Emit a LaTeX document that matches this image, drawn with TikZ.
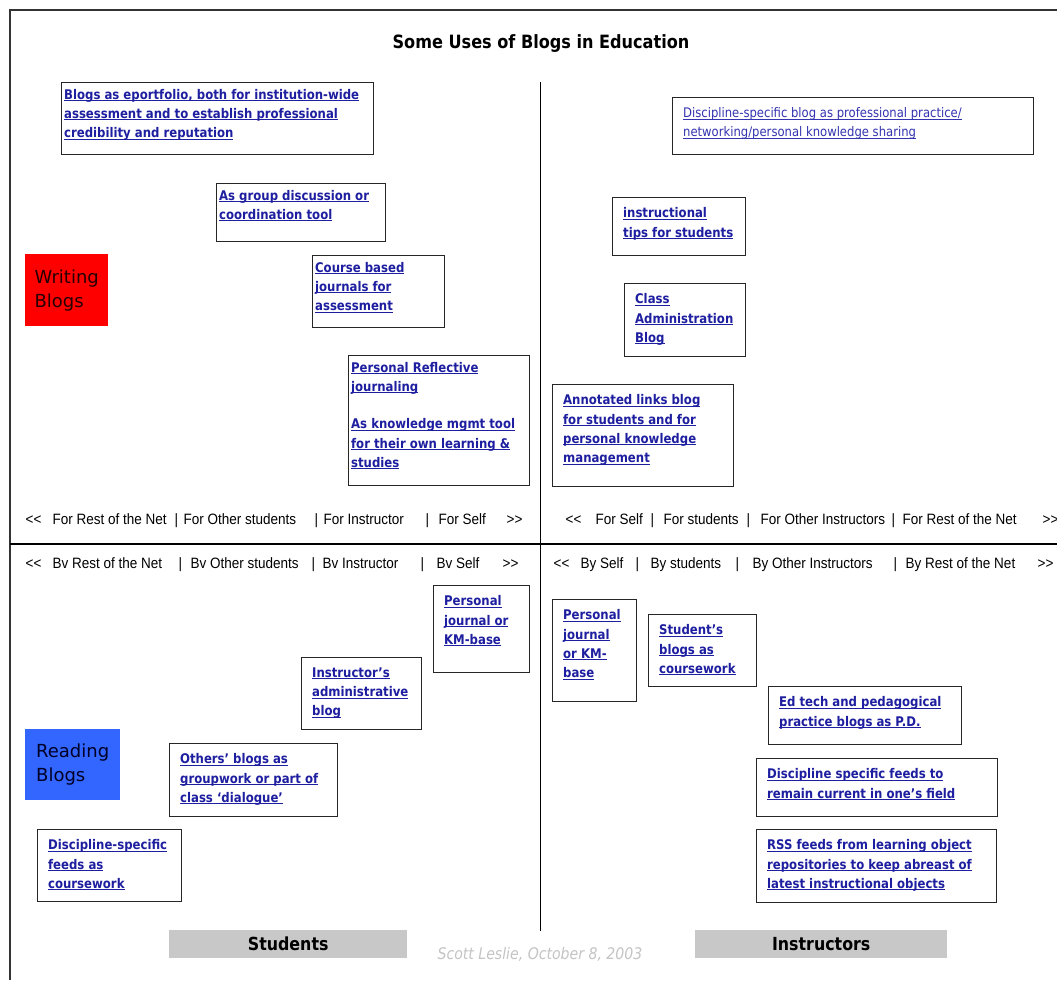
\documentclass[tikz,border=0pt]{standalone}
\usepackage{fontspec}
\newfontfamily\boxfont[FakeStretch=0.88]{DejaVu Sans}
\newfontfamily\catfont{DejaVu Sans}
\newfontfamily\rowfont[FakeStretch=0.9]{Liberation Sans}
\definecolor{linkblue}{HTML}{1E1EA0}
\definecolor{plainblue}{HTML}{3434B0}
\definecolor{writered}{HTML}{FF0000}
\definecolor{readblue}{HTML}{3366FF}
\definecolor{bargray}{HTML}{C8C8C8}
\definecolor{signgray}{HTML}{C4C4C4}
\newcommand{\lnk}[1]{\leavevmode\setbox0\hbox{#1}\rlap{\rule[-1.8pt]{\wd0}{0.9pt}}\box0}
\newcommand{\boxtext}[3]{\parbox[t][#2pt][t]{#1pt}{#3}}
\newcommand{\rowat}[2]{\rlap{\hspace{#1pt}#2}}
\tikzset{
	blogbox/.style={draw=black!85, line width=1.3pt, anchor=north west, inner xsep=10.5pt, inner ysep=10pt,
		text=linkblue, font=\boxfont\bfseries\fontsize{13.3}{19.3}\selectfont},
	tightbox/.style={blogbox, inner xsep=2.5pt, inner ysep=6.5pt},
	plainbox/.style={blogbox, text=plainblue, font=\boxfont\fontsize{13.2}{19}\selectfont},
	catbox/.style={anchor=north west, align=left, inner sep=0pt, font=\catfont\fontsize{18}{24}\selectfont},
	bar/.style={fill=bargray, anchor=north west, inner sep=0pt, minimum height=28pt,
		font=\boxfont\bfseries\fontsize{18}{20}\selectfont},
	rowtext/.style={anchor=west, inner sep=0pt, font=\rowfont\fontsize{15}{17}\selectfont},
}

\begin{document}
\begin{tikzpicture}[x=1pt,y=-1pt]
		% Page and frame
		\fill[white] (0,0) rectangle (1057,980);
		\useasboundingbox (0,0) rectangle (1057,980);
		\draw[line width=2pt, black!80] (1057,10) -- (10,10) -- (10,980);
		\node[font=\boxfont\bfseries\fontsize{18.3}{20}\selectfont] (title) at (541,44) {Some Uses of Blogs in Education};
		% Dividers
		\coordinate (divtop) at (540,82);
		\coordinate (divbot) at (540,931);
		\coordinate (midleft) at (10,544);
		\coordinate (midright) at (1057,544);
		\draw[line width=1pt] (divtop) -- (divbot);
		\draw[line width=1.6pt] (midleft) -- (midright);
		% Writing blogs, students
		\node[catbox, fill=writered, text={black!85!red}, minimum width=83pt, minimum height=72pt] (writing) at (25,254) {Writing\\Blogs};
		\node[tightbox] (eport) at (61,82) {\boxtext{307}{59}{\lnk{Blogs as eportfolio, both for institution-wide}\\
			\lnk{assessment and to establish professional}\\ \lnk{credibility and reputation}}};
		\node[tightbox] (groupdisc) at (216,183) {\boxtext{164}{45}{\lnk{As group discussion or}\\ \lnk{coordination tool}}};
		\node[tightbox] (coursejour) at (312,255) {\boxtext{127}{59}{\lnk{Course based}\\ \lnk{journals for}\\ \lnk{assessment}}};
		\node[tightbox] (reflect) at (348,355) {\boxtext{176}{117}{\lnk{Personal Reflective}\\ \lnk{journaling}\\[18pt]
			\lnk{As knowledge mgmt tool}\\ \lnk{for their own learning \&}\\ \lnk{studies}}};
		% Writing blogs, instructors
		\node[plainbox] (discprac) at (672,97) {\boxtext{340}{37}{\lnk{Discipline-specific blog as professional practice/}\\
			\lnk{networking/personal knowledge sharing}}};
		\node[blogbox] (tips) at (612,197) {\boxtext{112}{38}{\lnk{instructional}\\ \lnk{tips for students}}};
		\node[blogbox] (classadmin) at (624,283) {\boxtext{100}{53}{\lnk{Class}\\ \lnk{Administration}\\ \lnk{Blog}}};
		\node[blogbox] (annot) at (552,384) {\boxtext{160}{82}{\lnk{Annotated links blog}\\ \lnk{for students and for}\\
			\lnk{personal knowledge}\\ \lnk{management}}};
		% Audience rows
		\node[rowtext] (forstud) at (25,521) {\rowat{0}{<<}\rowat{27}{For Rest of the Net}\rowat{149}{|}\rowat{158}{For Other students}%
			\rowat{289}{|}\rowat{298}{For Instructor}\rowat{400}{|}\rowat{413}{For Self}\rowat{481}{>>}};
		\node[rowtext] (forinst) at (565,521) {\rowat{0}{<<}\rowat{30}{For Self}\rowat{85}{|}\rowat{98}{For students}%
			\rowat{181}{|}\rowat{195}{For Other Instructors}\rowat{326}{|}\rowat{337}{For Rest of the Net}\rowat{477}{>>}};
		\node[rowtext] (bystud) at (25,565) {\rowat{0}{<<}\rowat{27}{Bv Rest of the Net}\rowat{153}{|}\rowat{165}{Bv Other students}%
			\rowat{286}{|}\rowat{297}{Bv Instructor}\rowat{395}{|}\rowat{411}{Bv Self}\rowat{477}{>>}};
		\node[rowtext] (byinst) at (553,565) {\rowat{0}{<<}\rowat{27}{By Self}\rowat{82}{|}\rowat{97}{By students}%
			\rowat{182}{|}\rowat{199}{By Other Instructors}\rowat{340}{|}\rowat{352}{By Rest of the Net}\rowat{484}{>>}};
		% Reading blogs, students
		\node[catbox, fill=readblue, text={black!85!blue}, minimum width=95pt, minimum height=71pt] (reading) at (25,729) {Reading\\Blogs};
		\node[blogbox] (persjour) at (433,585) {\boxtext{75}{67}{\lnk{Personal}\\ \lnk{journal or}\\ \lnk{KM-base}}};
		\node[blogbox] (instradmin) at (301,657) {\boxtext{99}{52}{\lnk{Instructor’s}\\ \lnk{administrative}\\ \lnk{blog}}};
		\node[blogbox] (others) at (169,743) {\boxtext{147}{53}{\lnk{Others’ blogs as}\\ \lnk{groupwork or part of}\\ \lnk{class ‘dialogue’}}};
		\node[blogbox] (discfeeds) at (37,829) {\boxtext{123}{52}{\lnk{Discipline-specific}\\ \lnk{feeds as}\\ \lnk{coursework}}};
		% Reading blogs, instructors
		\node[blogbox] (persjourinst) at (552,599) {\boxtext{63}{82}{\lnk{Personal}\\ \lnk{journal}\\ \lnk{or KM-}\\ \lnk{base}}};
		\node[blogbox] (studblogs) at (648,614) {\boxtext{87}{52}{\lnk{Student’s}\\ \lnk{blogs as}\\ \lnk{coursework}}};
		\node[blogbox] (edtech) at (768,686) {\boxtext{172}{38}{\lnk{Ed tech and pedagogical}\\ \lnk{practice blogs as P.D.}}};
		\node[blogbox] (discfield) at (756,758) {\boxtext{220}{38}{\lnk{Discipline specific feeds to}\\ \lnk{remain current in one’s field}}};
		\node[blogbox] (rssfeeds) at (756,829) {\boxtext{219}{53}{\lnk{RSS feeds from learning object}\\
			\lnk{repositories to keep abreast of}\\ \lnk{latest instructional objects}}};
		% Footer
		\node[bar, minimum width=238pt] (students) at (169,930) {Students};
		\node[bar, minimum width=252pt] (instructors) at (695,930) {Instructors};
		\node[font=\boxfont\itshape\fontsize{16}{18}\selectfont, text=signgray] (sign) at (540,954) {Scott Leslie, October 8, 2003};
\end{tikzpicture}
\end{document}
